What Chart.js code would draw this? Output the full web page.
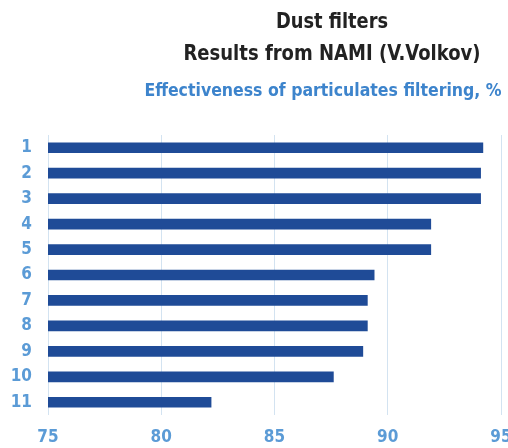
<!DOCTYPE html>
<html>
<head>
<meta charset="utf-8">
<script src="https://cdn.jsdelivr.net/npm/chart.js@4/dist/chart.umd.min.js"></script>
<style>
  html, body { margin: 0; padding: 0; background: #fff; }
  #wrap { position: relative; width: 508px; height: 448px; overflow: hidden; }
  canvas { position: absolute; left: 0; top: 0; }
  .ttl {
    position: absolute; white-space: nowrap;
    font-family: "Liberation Sans Narrow", "DejaVu Sans Condensed", sans-serif;
    font-weight: bold;
  }
  #t1 { left: 332px; top: 8px; font-size: 22px; color: #222; transform: translateX(-50%) scaleX(0.9); }
  #t2 { left: 332px; top: 40px; font-size: 22px; color: #222; transform: translateX(-50%) scaleX(0.91); }
  #t3 { left: 323px; top: 80px; font-size: 17px; color: #3d84cc; transform: translateX(-50%) scaleX(1.03); }
</style>
</head>
<body>
<div id="wrap">
  <canvas id="chart" width="508" height="448"></canvas>
  <div class="ttl" id="t1">Dust filters</div>
  <div class="ttl" id="t2">Results from NAMI (V.Volkov)</div>
  <div class="ttl" id="t3">Effectiveness of particulates filtering, %</div>
</div>
<script>
// filters 1..11 and their effectiveness, %
const filterLabels = ['1', '2', '3', '4', '5', '6', '7', '8', '9', '10', '11'];
const effectiveness = [94.2, 94.1, 94.1, 91.9, 91.9, 89.4, 89.1, 89.1, 88.9, 87.6, 82.2];
const axisMin = 75;
const axisMax = 95;
const axisStep = 5;

const labelFont = { family: '"Liberation Sans Narrow", "DejaVu Sans Condensed", sans-serif', size: 17, weight: 'bold' };

new Chart(document.getElementById('chart'), {
    type: 'bar',
    data: {
        labels: filterLabels,
        datasets: [{
            data: effectiveness,
            backgroundColor: '#1f4b97',
            borderWidth: 0,
            barThickness: 10
        }]
    },
    options: {
        indexAxis: 'y',
        responsive: false,
        animation: false,
        layout: { padding: { top: 135, right: 7, left: 0, bottom: 0 } },
        plugins: {
            legend: { display: false },
            tooltip: { enabled: false }
        },
        scales: {
            x: {
                min: axisMin,
                max: axisMax,
                ticks: { stepSize: axisStep, color: '#5b9bd6', font: labelFont, padding: 12 },
                grid: { color: '#d3e3f1', lineWidth: 1, drawTicks: false },
                border: { display: false },
                afterFit: (s) => { s.height = 33; s.paddingLeft = 0; s.paddingRight = 0; }
            },
            y: {
                ticks: { color: '#5b9bd6', font: labelFont, padding: 8 },
                grid: { display: false },
                border: { display: false },
                afterFit: (s) => { s.width = 48; s.paddingTop = 0; s.paddingBottom = 0; }
            }
        }
    }
});
</script>
</body>
</html>
